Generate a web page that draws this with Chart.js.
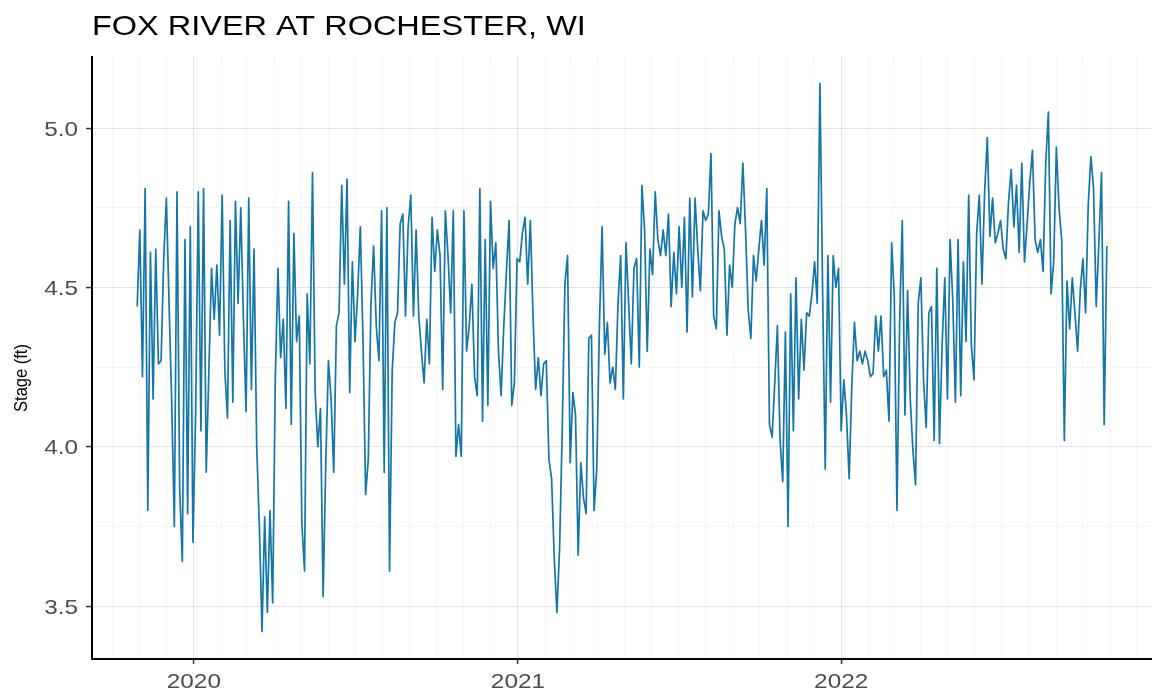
<!DOCTYPE html>
<html>
<head>
<meta charset="utf-8">
<title>Fox River at Rochester, WI</title>
<script src="https://cdn.jsdelivr.net/npm/chart.js@4.4.0/dist/chart.umd.min.js"></script>
<style>
  html, body { margin: 0; padding: 0; background: #fff; }
  canvas { display: block; }
</style>
</head>
<body>
<canvas id="graficoNivel" width="1152" height="694"></canvas>
<script>
const chartTitle = 'FOX RIVER AT ROCHESTER, WI';
const yAxisTitle = 'Stage (ft)';

// readings every 3 days, starting on seriesStart
const seriesStart = '2019-10-29';
const stepDays = 3;

const stage2019 = [4.44, 4.68, 4.22, 4.81, 3.80, 4.61, 4.15, 4.62, 4.26, 4.27, 4.59, 4.78, 4.45, 4.14, 3.75, 4.80,
  3.87, 3.64, 4.65, 3.79, 4.69, 3.70];

const stage2020 = [4.10, 4.80, 4.05, 4.81, 3.92, 4.24, 4.56, 4.40, 4.57, 4.35, 4.79, 4.24, 4.09, 4.71,
  4.14, 4.77, 4.45, 4.75, 4.40, 4.11, 4.78, 4.18, 4.62, 4.00, 3.75, 3.42, 3.78, 3.48, 3.80, 3.51, 4.21,
  4.56, 4.28, 4.40, 4.12, 4.77, 4.07, 4.67, 4.33, 4.41, 3.76, 3.61, 4.48, 4.26, 4.86, 4.17, 4.00, 4.12,
  3.53, 3.95, 4.27, 4.15, 3.92, 4.38, 4.42, 4.82, 4.51, 4.84, 4.17, 4.58, 4.33, 4.48, 4.69, 4.34, 3.85,
  3.96, 4.45, 4.63, 4.38, 4.27, 4.74, 3.92, 4.75, 3.61, 4.24, 4.39, 4.42, 4.70, 4.73, 4.41, 4.69, 4.79,
  4.41, 4.68, 4.41,
  4.30, 4.20, 4.40, 4.26, 4.72, 4.55, 4.68, 4.60, 4.18, 4.74, 4.60, 4.42, 4.74, 3.97, 4.07, 3.97, 4.74,
  4.30, 4.38, 4.51, 4.22, 4.16, 4.81, 4.08, 4.65, 4.13, 4.77, 4.56, 4.64, 4.30, 4.16, 4.38, 4.55, 4.71,
  4.13, 4.20, 4.59];

const stage2021 = [4.58, 4.67, 4.72, 4.51, 4.71, 4.41, 4.18, 4.28, 4.16, 4.26, 4.27, 3.96, 3.90, 3.65, 3.48,
  3.68, 4.05, 4.51, 4.60, 3.95, 4.17, 4.10, 3.66, 3.95, 3.84, 3.79, 4.34, 4.35, 3.80, 3.93, 4.38, 4.69, 4.29,
  4.39, 4.20, 4.25, 4.18, 4.45, 4.60, 4.15, 4.64, 4.45, 4.26, 4.56, 4.59, 4.25, 4.82, 4.68, 4.30, 4.62,
  4.54, 4.80, 4.65, 4.60, 4.68, 4.60, 4.73, 4.44, 4.61, 4.48, 4.69, 4.50, 4.72, 4.36, 4.78, 4.47, 4.78,
  4.62, 4.49, 4.74,
  4.71, 4.73, 4.92, 4.41, 4.37, 4.74, 4.66, 4.62, 4.35, 4.57, 4.50, 4.70, 4.75, 4.70, 4.89, 4.68, 4.43,
  4.34, 4.60, 4.52, 4.62, 4.71, 4.57, 4.81, 4.07, 4.03, 4.20, 4.38, 4.02, 3.89, 4.36, 3.75, 4.48, 4.05,
  4.53, 4.15, 4.40, 4.24, 4.42, 4.41, 4.48, 4.58, 4.45, 5.14, 4.50, 3.93, 4.60, 4.14, 4.60, 4.50, 4.56];

const stage2022 = [4.05, 4.21, 4.10, 3.90, 4.19, 4.39, 4.27, 4.30, 4.26, 4.30, 4.27, 4.22, 4.23, 4.41, 4.30,
  4.41, 4.22, 4.24, 4.08, 4.64,
  4.47, 3.80, 4.39, 4.71, 4.10, 4.49, 4.15, 3.99, 3.88, 4.45, 4.53, 4.21, 4.06, 4.42, 4.44, 4.02, 4.56,
  4.01, 4.32, 4.53, 4.15, 4.65, 4.46, 4.14, 4.65, 4.16, 4.58, 4.33, 4.79, 4.32, 4.21, 4.67, 4.79, 4.51,
  4.80, 4.97,
  4.66, 4.78, 4.64, 4.67, 4.71, 4.62, 4.59, 4.77, 4.87, 4.69, 4.82, 4.61, 4.89, 4.58, 4.70, 4.83, 4.93,
  4.65, 4.61, 4.65, 4.55, 4.89, 5.05, 4.48, 4.58, 4.94, 4.75, 4.65, 4.02, 4.52, 4.37, 4.53, 4.42, 4.30,
  4.49, 4.59, 4.42, 4.76, 4.91, 4.81, 4.44, 4.64, 4.86, 4.07, 4.63];

const yTicks = [3.5, 4.0, 4.5, 5.0];
const yMinorTicks = [3.75, 4.25, 4.75];
const yRange = [3.334, 5.223];
const xRange = ['2019-09-08', '2022-12-18'];

const DAY = 86400000;
function toDay(iso) {
  const [a, m, d] = iso.split('-').map(Number);
  return Date.UTC(a, m - 1, d) / DAY;
}
function fromDay(n) {
  return new Date(Math.round(n) * DAY);
}
function isJanuary(n) {
  const dt = fromDay(n);
  return dt.getUTCMonth() === 0 && dt.getUTCDate() === 1;
}

// join the years and place each reading on its day
const leituras = [...stage2019, ...stage2020, ...stage2021, ...stage2022];
const inicio = toDay(seriesStart);
const pontos = leituras.map((v, i) => ({ x: inicio + i * stepDays, y: v }));

// grid lines on the first of every month
const xMin = toDay(xRange[0]);
const xMax = toDay(xRange[1]);
const mesesTicks = [];
{
  const d0 = fromDay(xMin);
  let ano = d0.getUTCFullYear();
  let mes = d0.getUTCMonth() + 1;
  while (true) {
    const v = Date.UTC(ano, mes, 1) / DAY;
    if (v > xMax) break;
    if (v >= xMin) mesesTicks.push(v);
    mes++;
  }
}
const yTodos = [...yTicks, ...yMinorTicks].sort((a, b) => a - b);
const ehMaiorY = v => yTicks.some(t => Math.abs(t - v) < 1e-9);

const fonte = '"Liberation Sans", Arial, sans-serif';
const esticar = 1.16; // the lettering is a bit wider than the normal face

function textoLargo(ctx, texto, x, y, align) {
  ctx.save();
  ctx.translate(x, y);
  ctx.scale(esticar, 1);
  ctx.textAlign = align;
  ctx.fillText(texto, 0, 0);
  ctx.restore();
}

// title, axis title and tick labels
const textosPlugin = {
  id: 'textosPlugin',
  afterDraw(chart) {
    const ctx = chart.ctx;
    const { x, y } = chart.scales;
    ctx.save();
    ctx.textBaseline = 'alphabetic';

    ctx.fillStyle = '#000';
    ctx.font = '28px ' + fonte;
    textoLargo(ctx, chartTitle, chart.chartArea.left, 35, 'left');

    ctx.fillStyle = '#4d4d4d';
    ctx.font = '21px ' + fonte;
    yTicks.forEach(v => textoLargo(ctx, v.toFixed(1), 78, y.getPixelForValue(v) + 7.5, 'right'));
    mesesTicks.filter(isJanuary).forEach(v =>
      textoLargo(ctx, String(fromDay(v).getUTCFullYear()), x.getPixelForValue(v), 688, 'center'));

    ctx.fillStyle = '#000';
    ctx.font = '16.5px ' + fonte;
    ctx.translate(22, 378);
    ctx.scale(esticar, 1);
    ctx.rotate(-Math.PI / 2);
    ctx.textAlign = 'center';
    ctx.textBaseline = 'middle';
    ctx.fillText(yAxisTitle, 0, 0);
    ctx.restore();
  }
};

new Chart(document.getElementById('graficoNivel').getContext('2d'), {
  type: 'line',
  data: {
    datasets: [{
      label: yAxisTitle,
      data: pontos,
      borderColor: '#1476a8',
      borderWidth: 1.7,
      borderJoinStyle: 'round',
      pointRadius: 0,
      tension: 0,
      fill: false
    }]
  },
  options: {
    responsive: false,
    animation: false,
    layout: { padding: { top: 57, right: 0, bottom: 0, left: 0 } },
    plugins: {
      legend: { display: false },
      tooltip: { enabled: false },
      title: { display: false }
    },
    scales: {
      x: {
        type: 'linear',
        min: xMin,
        max: xMax,
        afterBuildTicks: scale => { scale.ticks = mesesTicks.map(v => ({ value: v })); },
        afterFit: scale => { scale.height = 35; },
        ticks: { display: false, autoSkip: false },
        grid: {
          color: c => (c.tick && isJanuary(c.tick.value)) ? '#e4e4e4' : '#f2f2f2',
          lineWidth: c => (c.tick && isJanuary(c.tick.value)) ? 1.1 : 0.8,
          tickColor: c => (c.tick && isJanuary(c.tick.value)) ? '#333' : 'rgba(0,0,0,0)',
          tickLength: 5,
          tickWidth: 1.5
        },
        border: { display: true, color: '#000', width: 2 }
      },
      y: {
        min: yRange[0],
        max: yRange[1],
        afterBuildTicks: scale => { scale.ticks = yTodos.map(v => ({ value: v })); },
        afterFit: scale => { scale.width = 92; },
        ticks: { display: false, autoSkip: false },
        grid: {
          color: c => (c.tick && ehMaiorY(c.tick.value)) ? '#e4e4e4' : '#f2f2f2',
          lineWidth: c => (c.tick && ehMaiorY(c.tick.value)) ? 1.1 : 0.8,
          tickColor: c => (c.tick && ehMaiorY(c.tick.value)) ? '#333' : 'rgba(0,0,0,0)',
          tickLength: 6,
          tickWidth: 1.5
        },
        border: { display: true, color: '#000', width: 2 }
      }
    }
  },
  plugins: [textosPlugin]
});
</script>
</body>
</html>
